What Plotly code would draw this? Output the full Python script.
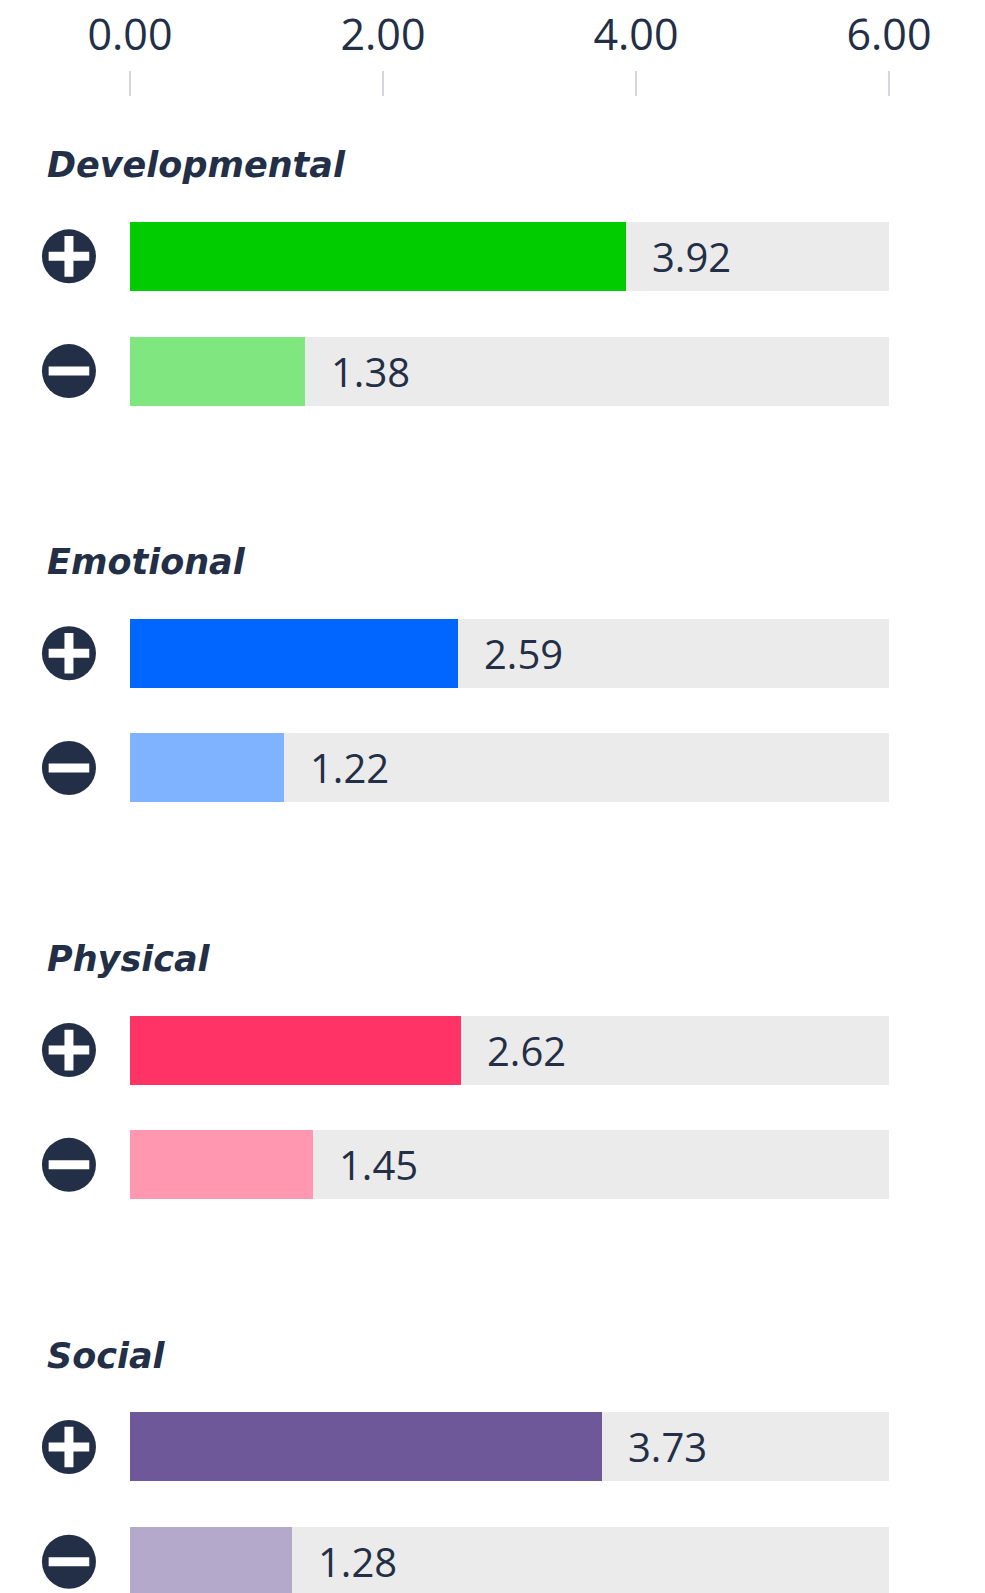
import plotly.graph_objects as go

categories = ["Developmental", "Emotional", "Physical", "Social"]
positive_values = [3.92, 2.59, 2.62, 3.73]
negative_values = [1.38, 1.22, 1.45, 1.28]
axis_max = 6
tick_values = [0, 2, 4, 6]

pos_colors = ["#00cc00", "#0066ff", "#ff3366", "#6f5899"]
neg_colors = ["#80e680", "#80b3ff", "#ff97b0", "#b5a9cb"]
track_color = "#ebebeb"
ink = "#232f46"
FONT = "Open Sans"
LABEL_FONT = "DejaVu Sans"

W, H = 985, 1593
plot_top = 96.5
base, group_step, row_step, label_off = 255.9, 397.0, 114.8, 91.4
bar_h = 69

y_pos = [base + i * group_step for i in range(len(categories))]
y_neg = [y + row_step for y in y_pos]
y_lab = [y - label_off for y in y_pos]

fig = go.Figure()
all_y = y_pos + y_neg
# background tracks
fig.add_trace(go.Bar(x=[axis_max] * len(all_y), y=all_y, orientation="h", width=bar_h,
                     marker=dict(color=track_color, line=dict(width=0)), hoverinfo="skip", showlegend=False))
fig.add_trace(go.Bar(x=positive_values, y=y_pos, orientation="h", width=bar_h,
                     marker=dict(color=pos_colors, line=dict(width=0)), hoverinfo="skip", showlegend=False))
fig.add_trace(go.Bar(x=negative_values, y=y_neg, orientation="h", width=bar_h,
                     marker=dict(color=neg_colors, line=dict(width=0)), hoverinfo="skip", showlegend=False))

# icons
fig.add_trace(go.Scatter(x=[0.5] * len(all_y), y=all_y, xaxis="x2", mode="markers",
                         marker=dict(symbol="circle", size=54, color=ink, line=dict(width=0)),
                         hoverinfo="skip", showlegend=False, cliponaxis=False))
fig.add_trace(go.Scatter(x=[0.5] * len(y_pos), y=y_pos, xaxis="x2", mode="markers",
                         marker=dict(symbol="cross-thin", size=29, color="white",
                                     line=dict(width=9, color="white")),
                         hoverinfo="skip", showlegend=False, cliponaxis=False))
fig.add_trace(go.Scatter(x=[0.5] * len(y_neg), y=y_neg, xaxis="x2", mode="markers",
                         marker=dict(symbol="line-ew", size=29, color="white",
                                     line=dict(width=9, color="white")),
                         hoverinfo="skip", showlegend=False, cliponaxis=False))

annotations = []
for name, yl in zip(categories, y_lab):
    annotations.append(dict(x=44.7 / W, xref="paper", y=yl, yref="y", text=name, showarrow=False,
                            xanchor="left", yanchor="middle",
                            font=dict(family=LABEL_FONT, size=35, color=ink, weight="bold", style="italic")))
for vals, ys in ((positive_values, y_pos), (negative_values, y_neg)):
    for v, yy in zip(vals, ys):
        annotations.append(dict(x=v, y=yy, xref="x", yref="y", text=f"{v:.2f}", showarrow=False,
                                xanchor="left", yanchor="middle", xshift=24,
                                font=dict(family=FONT, size=40, color=ink)))

fig.update_layout(
    width=W, height=H, margin=dict(l=0, r=0, t=plot_top, b=0, pad=0, autoexpand=False),
    paper_bgcolor="white", plot_bgcolor="rgba(0,0,0,0)", barmode="overlay", bargap=0,
    hovermode=False, showlegend=False,
    xaxis=dict(domain=[130 / W, 889 / W], range=[0, axis_max], side="top", tickvals=tick_values,
               tickformat=".2f", ticks="outside", ticklen=25.5, tickwidth=2, tickcolor="#d3d6dc",
               showgrid=False, zeroline=False, showline=False, ticklabelstandoff=3,
               automargin=False,
               tickfont=dict(family=FONT, size=43, color=ink), fixedrange=True),
    xaxis2=dict(domain=[0, 0.14], range=[0, 1], visible=False, anchor="y", fixedrange=True),
    yaxis=dict(range=[H, plot_top], visible=False, fixedrange=True, automargin=False),
    annotations=annotations,
)
fig.write_html("out.html", config={"displayModeBar": False},
               post_script="document.body.style.margin='0';document.body.style.overflow='hidden';")
